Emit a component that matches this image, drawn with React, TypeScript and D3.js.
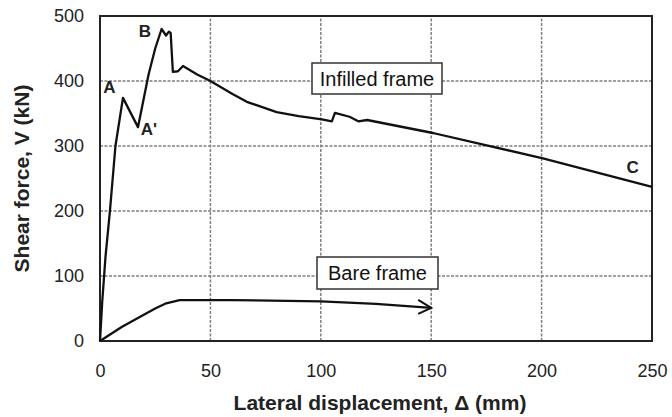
import React, { useEffect, useRef } from 'react';
import * as d3 from 'd3';

// Infilled frame response (mm, kN)
const infilledX = [0, 1, 2.5, 4.5, 7, 10.4, 17.2, 22, 25, 27.9, 29.9, 31.2, 32, 33, 35.3, 37.6, 44, 50, 60, 66.5, 80, 90, 100.5, 105, 106.4, 113, 117, 121, 150.8, 200.6, 250];
const infilledV = [0, 60, 130, 200, 300, 374, 329, 410, 450, 480, 470, 476, 474, 414, 415, 423, 410, 400, 380, 368, 352, 346, 341, 338, 351, 345, 338, 340, 320, 281, 237];

// Bare frame response (mm, kN)
const bareX = [0, 10, 18, 25, 30, 36, 60, 100, 125, 150];
const bareV = [0, 22, 37, 50, 58, 63, 63, 61, 57, 51];

const xTicks = [0, 50, 100, 150, 200, 250];
const yTicks = [0, 100, 200, 300, 400, 500];
const xGrid = [50, 100, 150, 200];
const yGrid = [100, 200, 300, 400];

// point labels: [text, x (mm), V (kN)]
const pointLabels: [string, number, number][] = [
  ['A', 1.5, 382],
  ['A\'', 18.5, 317],
  ['B', 17.5, 468],
  ['C', 238.5, 258],
];

const App = () => {
  const width = 672;
  const height = 417;
  const x = d3.scaleLinear().domain([0, 250]).range([100, 652]);
  const y = d3.scaleLinear().domain([0, 500]).range([341, 16]);
  const font = '"Liberation Sans", Arial, sans-serif';
  const ref = useRef<SVGGElement>(null);

  useEffect(() => {
    const svg = d3.select(ref.current);
    svg.selectAll('*').remove();

    svg.append('g')
      .attr('transform', `translate(0,${y(0)})`)
      .call(d3.axisBottom(x).tickValues(xTicks).tickSize(0).tickPadding(23))
      .call(g => g.select('.domain').remove())
      .call(g => g.selectAll('text').attr('font-size', 18).attr('font-family', font).attr('fill', '#222'));

    svg.append('g')
      .attr('transform', `translate(${x(0)},0)`)
      .call(d3.axisLeft(y).tickValues(yTicks).tickSize(0).tickPadding(16))
      .call(g => g.select('.domain').remove())
      .call(g => g.selectAll('text').attr('font-size', 18).attr('font-family', font).attr('fill', '#222'));
  }, []);

  const line = d3.line<[number, number]>().x(d => x(d[0])).y(d => y(d[1]));
  const n = bareX.length - 1;
  const tx = x(bareX[n]);
  const ty = y(bareV[n]);
  const boxes: [string, number, number, number, number][] = [
    ['Infilled frame', 312, 63, 130, 31],
    ['Bare frame', 317, 257, 121, 32],
  ];

  return (
    <svg width={width} height={height} viewBox={`0 0 ${width} ${height}`} style={{ position: 'absolute', left: 0, top: 0 }}>
      <rect width={width} height={height} fill="white" />
      {/* dotted grid */}
      {xGrid.map(v => (
        <path key={'gx' + v} d={`M${x(v)},${y(0)}V${y(500)}`}
          fill="none" stroke="#808080" strokeWidth={1.5} strokeDasharray="3 1.5" />
      ))}
      {yGrid.map(v => (
        <path key={'gy' + v} d={`M${x(0)},${y(v)}H${x(250)}`}
          fill="none" stroke="#808080" strokeWidth={1.5} strokeDasharray="3 1.5" />
      ))}
      <rect x={x(0)} y={y(500)} width={x(250) - x(0)} height={y(0) - y(500)}
        fill="none" stroke="#222" strokeWidth={2} />
      <g ref={ref} />
      <text x={380} y={410} textAnchor="middle" fontFamily={font} fontWeight="bold" fontSize={21} fill="#222">
        Lateral displacement, Δ (mm)
      </text>
      <text transform={`translate(29,${(y(0) + y(500)) / 2}) rotate(-90)`} textAnchor="middle"
        fontFamily={font} fontWeight="bold" fontSize={21} fill="#222">
        Shear force, V (kN)
      </text>
      <path d={line(infilledX.map((v, i) => [v, infilledV[i]] as [number, number])) || ''}
        fill="none" stroke="#111" strokeWidth={2.3} strokeLinejoin="round" />
      <path d={line(bareX.map((v, i) => [v, bareV[i]] as [number, number])) || ''}
        fill="none" stroke="#111" strokeWidth={2.3} strokeLinejoin="round" />
      <path d={`M${tx - 13},${ty - 8} L${tx},${ty} L${tx - 13},${ty + 6}`} fill="none" stroke="#111" strokeWidth={2} />
      {boxes.map(([t, bx, by, bw, bh]) => (
        <g key={t}>
          <rect x={bx} y={by} width={bw} height={bh} fill="white" stroke="#333" strokeWidth={1.5} />
          <text x={bx + bw / 2} y={by + bh / 2 + 7} textAnchor="middle" fontFamily={font} fontSize={20} fill="#111">{t}</text>
        </g>
      ))}
      {pointLabels.map(([t, px, pv]) => (
        <text key={t} x={x(px)} y={y(pv)} fontFamily={font} fontWeight="bold" fontSize={17} fill="#222">{t}</text>
      ))}
    </svg>
  );
};

export default App;
